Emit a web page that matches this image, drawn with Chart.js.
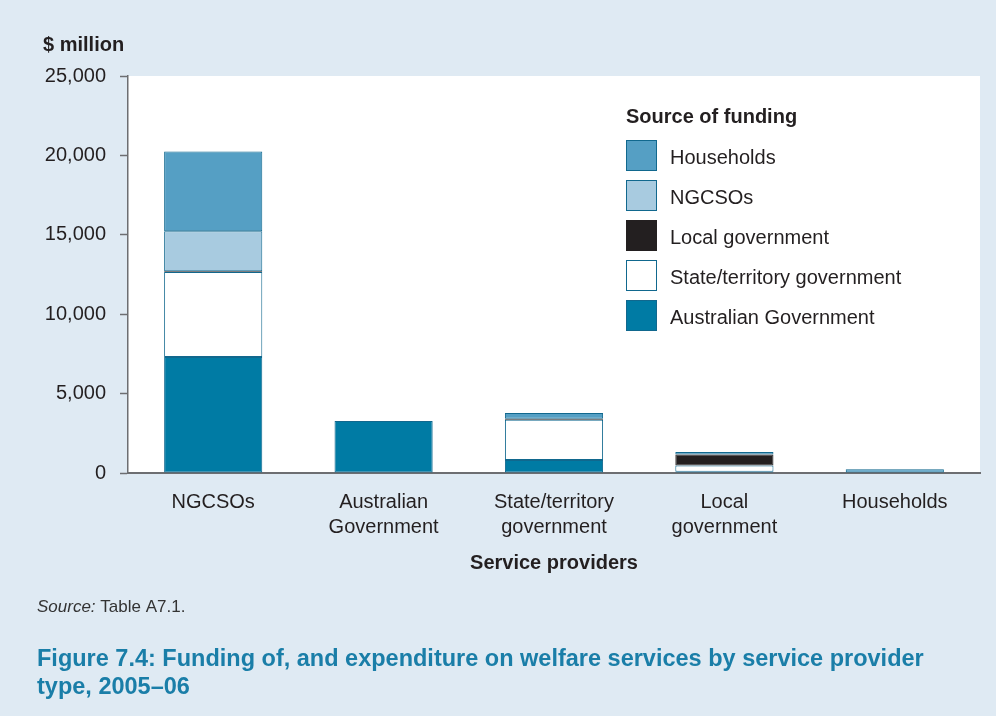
<!DOCTYPE html>
<html>
<head>
<meta charset="utf-8">
<script src="https://cdn.jsdelivr.net/npm/chart.js@4.4.0/dist/chart.umd.min.js"></script>
<style>
  html, body { margin: 0; padding: 0; background: #dfeaf3; }
  #wrap { width: 996px; height: 716px; position: relative; }
</style>
</head>
<body>
<div id="wrap"><canvas id="myChart" width="996" height="716"></canvas></div>
<script>
// categories (service providers)
const providers = [["NGCSOs"], ["Australian", "Government"], ["State/territory", "government"], ["Local", "government"], ["Households"]];

// source of funding, $ million (null = no funding)
const australianGov = [7300, 3280, 820, 80, null];
const stateGov      = [5350, null, 2530, 400, null];
const localGov      = [60, null, 60, 680, null];
const ngcsoFunds    = [2520, null, null, null, null];
const householdFunds = [5010, null, 370, 160, 230];

const yTicks = [0, 5000, 10000, 15000, 20000, 25000];

const FONT = "'Liberation Sans', Arial, Helvetica, sans-serif";
const EDGE = "#11688e";

// stack order bottom -> top
const series = [
  { label: "Australian Government", data: australianGov, color: "#007ba4", border: EDGE },
  { label: "State/territory government", data: stateGov, color: "#ffffff", border: EDGE },
  { label: "Local government", data: localGov, color: "#231f20", border: "#231f20" },
  { label: "NGCSOs", data: ngcsoFunds, color: "#a8cbe0", border: EDGE },
  { label: "Households", data: householdFunds, color: "#559fc4", border: EDGE }
];

// draws the text round the chart and the legend inside the plot
const extras = {
  id: "extras",
  beforeDraw(chart) {
    const c = chart.ctx, a = chart.chartArea;
    c.save();
    c.fillStyle = "#ffffff";
    c.fillRect(a.left, a.top, a.right - a.left, a.bottom - a.top);
    c.restore();
  },
  afterDraw(chart) {
    const c = chart.ctx, a = chart.chartArea;
    c.save();
    c.fillStyle = "#231f20";
    c.textBaseline = "middle";
    c.font = "bold 20px " + FONT;
    c.textAlign = "left";
    c.fillText("$ million", 43, 45);
    c.textAlign = "center";
    c.fillText("Service providers", (a.left + a.right) / 2, 563);

    // legend (top -> bottom reverse of stack)
    c.textAlign = "left";
    c.fillText("Source of funding", 626, 117);
    c.font = "20px " + FONT;
    const rev = series.slice().reverse();
    rev.forEach((s, i) => {
      const y = 140 + i * 40;
      c.fillStyle = s.color;
      c.fillRect(626, y, 31, 31);
      c.strokeStyle = s.border;
      c.lineWidth = 1;
      c.strokeRect(626.5, y + 0.5, 30, 30);
      c.fillStyle = "#231f20";
      c.fillText(s.label, 670, y + 18);
    });

    // source note
    c.fillStyle = "#333333";
    c.font = "italic 17px " + FONT;
    c.fillText("Source:", 37, 607);
    const w = c.measureText("Source:").width;
    c.font = "17px " + FONT;
    c.fillText(" Table A7.1.", 37 + w, 607);

    // figure caption
    c.fillStyle = "#1a7ea8";
    c.font = "bold 23.5px " + FONT;
    c.fillText("Figure 7.4: Funding of, and expenditure on welfare services by service provider", 37, 660);
    c.fillText("type, 2005\u201306", 37, 688);
    c.restore();
  }
};

let myChart = document.getElementById("myChart").getContext("2d");

new Chart(myChart, {
  type: "bar",
  data: {
    labels: providers,
    datasets: series.map(s => ({
      label: s.label,
      data: s.data,
      backgroundColor: s.color,
      borderColor: s.border,
      borderWidth: 1,
      borderSkipped: false,
      categoryPercentage: 1,
      barPercentage: 0.576
    }))
  },
  options: {
    responsive: false,
    animation: false,
    layout: { padding: { top: 76, right: 16, left: 0, bottom: 0 } },
    plugins: { legend: { display: false }, tooltip: { enabled: false } },
    scales: {
      x: {
        stacked: true,
        grid: { display: false, drawTicks: false },
        border: { color: "#6d6e71", width: 2 },
        ticks: { color: "#231f20", font: { family: FONT, size: 20, lineHeight: 1.25 }, padding: 17, maxRotation: 0 },
        afterFit(scale) { scale.height = 716 - 473; }
      },
      y: {
        stacked: true,
        min: 0,
        max: 25000,
        afterBuildTicks(scale) { scale.ticks = yTicks.map(v => ({ value: v })); },
        grid: { drawOnChartArea: false, tickLength: 8, color: "#6d6e71", tickWidth: 1.5 },
        border: { color: "#6d6e71", width: 1.5 },
        ticks: {
          color: "#231f20",
          font: { family: FONT, size: 20 },
          padding: 14,
          callback: v => v.toLocaleString("en-US")
        },
        afterFit(scale) { scale.width = 128; }
      }
    }
  },
  plugins: [extras]
});
</script>
</body>
</html>
